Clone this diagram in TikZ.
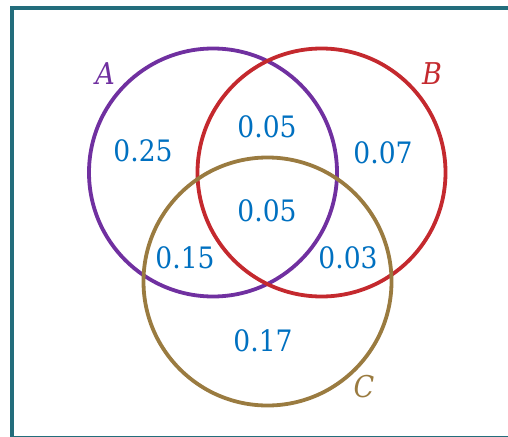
\documentclass[tikz,border=0pt]{standalone}
\usepackage{fontspec}
\newfontfamily\valfont{DejaVu Serif Condensed}
\definecolor{framec}{HTML}{236D7C}
\definecolor{setA}{HTML}{7030A0}
\definecolor{setB}{HTML}{C4292E}
\definecolor{setC}{HTML}{9A7B40}
\definecolor{valc}{HTML}{0070C0}
\begin{document}
\begin{tikzpicture}[x=1pt,y=-1pt,
  setcircle/.style={circle, draw, line width=3.8pt, minimum size=248pt, inner sep=0pt},
  val/.style={text=valc, font=\valfont\fontsize{29.5}{34}\selectfont, inner sep=0pt},
  setlabel/.style={font=\valfont\fontsize{30}{34}\selectfont\itshape, inner sep=0pt}]
\useasboundingbox (0,0) rectangle (508,436);
\clip (0,0) rectangle (508,436);
\draw[framec, line width=4pt] (12,8) rectangle (520,438);
\node[setcircle, draw=setA] (A) at (213,172.5) {};
\node[setcircle, draw=setB] (B) at (321.5,172.5) {};
\node[setcircle, draw=setC] (C) at (267.5,281.5) {};
\node[setlabel, text=setA] (lA) at (105,74) {A};
\node[setlabel, text=setB] (lB) at (432,74) {B};
\node[setlabel, text=setC] (lC) at (364,387) {C};
\node[val] (vA) at (143,151) {0.25};
\node[val] (vAB) at (267,127) {0.05};
\node[val] (vB) at (383,153) {0.07};
\node[val] (vABC) at (267,211) {0.05};
\node[val] (vAC) at (185,258) {0.15};
\node[val] (vBC) at (348,258) {0.03};
\node[val] (vC) at (263,341) {0.17};
\end{tikzpicture}
\end{document}
